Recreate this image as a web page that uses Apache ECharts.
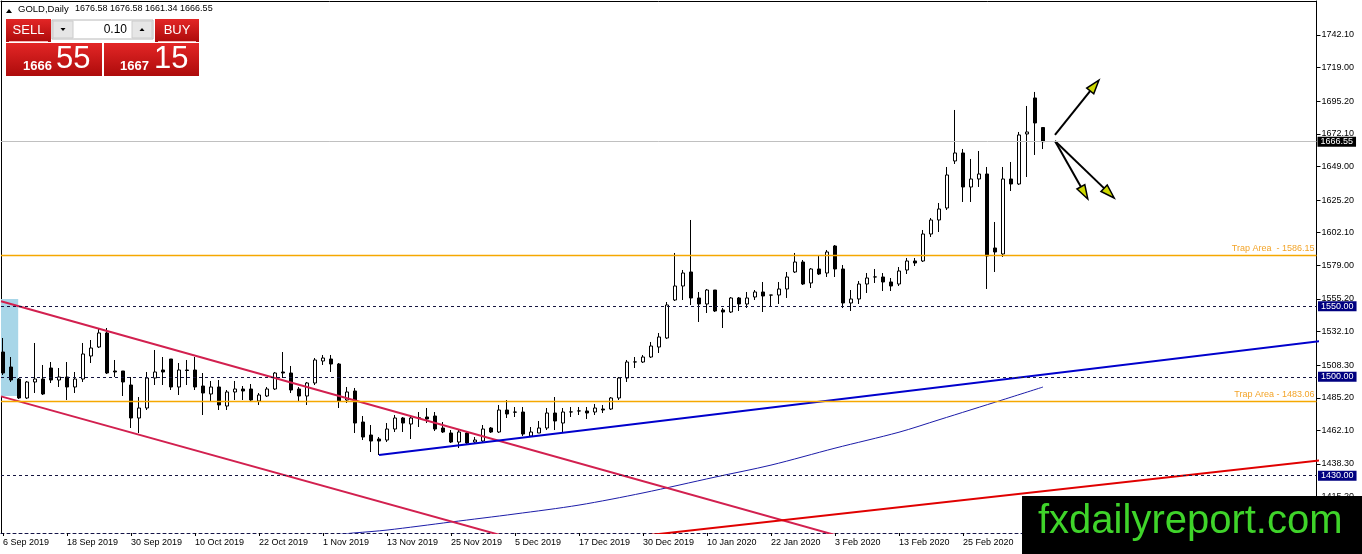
<!DOCTYPE html>
<html><head><meta charset="utf-8">
<script src="https://cdn.jsdelivr.net/npm/echarts@6/dist/echarts.min.js"></script>
<style>html,body{margin:0;padding:0;background:#fff}#c{width:1362px;height:554px}</style>
</head><body><div id="c"></div>
<script>
const dates = ['2019.09.06','2019.09.09','2019.09.10','2019.09.11','2019.09.12','2019.09.13','2019.09.16','2019.09.17','2019.09.18','2019.09.19','2019.09.20','2019.09.23','2019.09.24','2019.09.25','2019.09.26','2019.09.27','2019.09.30',
'2019.10.01','2019.10.02','2019.10.03','2019.10.04','2019.10.07','2019.10.08','2019.10.09','2019.10.10','2019.10.11','2019.10.14','2019.10.15','2019.10.16','2019.10.17','2019.10.18','2019.10.21','2019.10.22','2019.10.23','2019.10.24','2019.10.25','2019.10.28','2019.10.29','2019.10.30','2019.10.31',
'2019.11.01','2019.11.04','2019.11.05','2019.11.06','2019.11.07','2019.11.08','2019.11.11','2019.11.12','2019.11.13','2019.11.14','2019.11.15','2019.11.18','2019.11.19','2019.11.20','2019.11.21','2019.11.22','2019.11.25','2019.11.26','2019.11.27','2019.11.28','2019.11.29',
'2019.12.02','2019.12.03','2019.12.04','2019.12.05','2019.12.06','2019.12.09','2019.12.10','2019.12.11','2019.12.12','2019.12.13','2019.12.16','2019.12.17','2019.12.18','2019.12.19','2019.12.20','2019.12.23','2019.12.24','2019.12.26','2019.12.27','2019.12.30','2019.12.31',
'2020.01.02','2020.01.03','2020.01.06','2020.01.07','2020.01.08','2020.01.09','2020.01.10','2020.01.13','2020.01.14','2020.01.15','2020.01.16','2020.01.17','2020.01.20','2020.01.21','2020.01.22','2020.01.23','2020.01.24','2020.01.27','2020.01.28','2020.01.29','2020.01.30','2020.01.31',
'2020.02.03','2020.02.04','2020.02.05','2020.02.06','2020.02.07','2020.02.10','2020.02.11','2020.02.12','2020.02.13','2020.02.14','2020.02.17','2020.02.18','2020.02.19','2020.02.20','2020.02.21','2020.02.24','2020.02.25','2020.02.26','2020.02.27','2020.02.28',
'2020.03.02','2020.03.03','2020.03.04','2020.03.05','2020.03.06','2020.03.09','2020.03.10'];

const open = [
1517.60,1506.98,1498.48,1485.03,1496.36,1498.48,1506.27,1497.77,1499.90,1492.82,
1498.48,1514.77,1521.14,1531.06,1504.15,1504.15,1494.23,1470.86,1477.94,1499.19,
1504.86,1512.64,1492.82,1504.86,1504.86,1493.52,1487.86,1492.82,1479.36,1489.28,
1491.40,1491.40,1482.90,1486.44,1491.40,1503.44,1502.73,1491.40,1486.44,1495.65,
1511.23,1512.64,1509.10,1483.61,1489.98,1468.02,1458.81,1455.98,1455.27,1463.06,
1470.86,1466.60,1470.86,1471.56,1472.27,1463.77,1460.23,1453.85,1460.23,1453.85,
1454.56,1463.77,1460.94,1476.52,1475.11,1475.11,1458.10,1460.23,1463.77,1474.40,
1467.31,1475.11,1475.82,1475.82,1475.11,1477.23,1477.23,1485.03,1499.19,1510.52,
1510.52,1514.06,1521.14,1527.52,1554.43,1564.34,1574.26,1555.85,1551.60,1561.51,
1547.35,1545.93,1555.85,1551.60,1556.55,1560.10,1557.97,1557.97,1562.22,1574.26,
1581.34,1566.47,1576.39,1573.55,1592.68,1576.39,1552.31,1555.14,1565.76,1570.72,
1570.72,1567.18,1565.76,1575.68,1582.05,1582.05,1601.17,1611.09,1619.59,1652.88,
1658.55,1634.46,1640.13,1643.67,1591.26,1587.01,1640.13,1636.59,1672.01,1697.51,
1676.58];
const close = [
1502.73,1497.77,1485.03,1496.36,1498.48,1487.86,1497.77,1499.90,1492.82,1498.48,
1516.19,1520.43,1531.06,1502.73,1503.44,1496.36,1470.86,1477.94,1499.19,1503.44,
1503.44,1492.82,1504.86,1504.50,1492.82,1488.57,1492.82,1480.07,1489.28,1491.40,
1489.98,1483.61,1487.15,1491.40,1502.73,1502.73,1490.69,1486.44,1495.65,1511.94,
1513.35,1509.10,1482.90,1489.28,1467.31,1457.39,1454.56,1454.56,1463.06,1470.86,
1467.31,1470.86,1471.00,1470.15,1463.06,1460.94,1453.85,1460.94,1453.14,1455.27,
1463.06,1460.94,1476.52,1473.69,1475.00,1459.52,1460.94,1463.77,1474.40,1468.73,
1475.11,1475.20,1475.90,1474.40,1477.94,1476.52,1485.03,1499.19,1510.52,1510.60,
1514.06,1521.85,1528.23,1550.89,1564.34,1573.55,1555.85,1551.60,1561.51,1546.64,
1545.93,1555.85,1551.60,1555.85,1560.10,1557.26,1557.90,1562.22,1570.72,1581.34,
1565.76,1576.39,1572.84,1588.43,1576.39,1552.31,1555.14,1565.76,1570.01,1570.80,
1567.18,1564.34,1574.97,1582.05,1580.63,1601.17,1611.09,1618.88,1642.96,1658.55,
1634.46,1640.13,1643.67,1585.59,1588.43,1640.13,1636.59,1671.30,1673.42,1679.80,
1666.55];
const low = [
1501.31,1496.36,1484.32,1484.32,1488.57,1487.15,1495.65,1492.82,1483.61,1488.57,
1496.36,1509.81,1520.43,1502.02,1499.90,1486.44,1463.77,1460.23,1476.52,1494.23,
1494.23,1490.69,1487.15,1494.23,1490.69,1472.98,1482.19,1476.52,1476.52,1483.61,
1483.61,1482.19,1480.07,1485.73,1490.69,1499.19,1488.57,1482.90,1480.07,1494.23,
1508.40,1503.44,1477.94,1481.48,1460.23,1455.27,1446.77,1444.64,1453.85,1460.94,
1460.94,1455.98,1464.48,1467.31,1461.64,1460.23,1453.14,1449.60,1452.43,1453.14,
1453.85,1460.23,1460.23,1470.86,1471.56,1458.10,1457.39,1460.23,1462.35,1462.35,
1460.94,1471.56,1472.98,1470.15,1472.98,1474.40,1476.52,1483.61,1496.36,1506.27,
1509.81,1513.35,1516.90,1526.81,1553.72,1554.43,1550.89,1538.85,1545.22,1545.93,
1534.60,1545.22,1546.64,1548.77,1554.43,1545.93,1549.47,1551.60,1555.85,1573.55,
1565.05,1562.93,1572.13,1570.72,1570.72,1548.77,1546.64,1551.60,1559.39,1566.47,
1560.80,1560.80,1564.34,1572.84,1578.51,1581.34,1599.05,1602.59,1618.18,1650.75,
1623.84,1623.84,1634.46,1562.22,1574.26,1584.88,1631.63,1635.88,1641.54,1657.13,
1661.34];
const high = [
1527.52,1514.06,1499.19,1497.07,1523.98,1508.40,1510.52,1506.27,1510.52,1503.44,
1523.98,1526.10,1533.89,1534.60,1511.94,1504.15,1499.90,1485.73,1503.44,1519.02,
1514.06,1512.64,1509.81,1511.94,1514.06,1502.73,1497.07,1497.77,1490.69,1497.07,
1493.52,1494.94,1488.57,1492.82,1503.44,1517.60,1507.69,1492.82,1496.36,1513.35,
1515.48,1515.48,1509.81,1492.82,1492.11,1472.27,1465.90,1457.39,1467.31,1472.98,
1471.56,1472.98,1475.11,1477.94,1475.11,1468.02,1462.35,1463.06,1460.94,1457.39,
1465.90,1464.48,1480.07,1483.61,1478.65,1478.65,1464.48,1468.73,1477.94,1485.73,
1477.94,1478.65,1478.65,1478.65,1480.78,1480.07,1485.73,1499.90,1511.94,1514.06,
1515.48,1524.69,1531.06,1553.01,1587.72,1575.68,1611.09,1560.10,1562.22,1561.51,
1548.77,1556.55,1556.55,1560.10,1561.51,1567.18,1557.97,1567.18,1574.26,1587.72,
1582.76,1577.09,1585.59,1589.84,1593.38,1579.22,1561.51,1567.88,1573.55,1576.39,
1573.55,1570.01,1577.80,1584.18,1584.18,1604.01,1612.51,1623.13,1648.63,1689.00,
1661.38,1654.30,1659.96,1648.63,1609.67,1648.63,1652.17,1673.42,1691.84,1701.76,
1676.58];

const dateTickIndex = [0,8,16,24,32,40,48,56,64,72,80,88,96,104,112,120];
const dateTickLabels = ['6 Sep 2019','18 Sep 2019','30 Sep 2019','10 Oct 2019','22 Oct 2019','1 Nov 2019','13 Nov 2019','25 Nov 2019','5 Dec 2019','17 Dec 2019','30 Dec 2019','10 Jan 2020','22 Jan 2020','3 Feb 2020','13 Feb 2020','25 Feb 2020'];
const priceTicks = [1742.10,1719.00,1695.20,1672.10,1649.00,1625.20,1602.10,1579.00,1555.20,1532.10,1508.30,1485.20,1462.10,1438.30,1415.20];

const maIndex = [40,44,48,56,64,72,80,89,96,104,112,117,125,130];
const maValue = [1387.5,1389.5,1391.5,1397.2,1402.9,1409.2,1417.8,1429.0,1437.5,1449.5,1460.8,1469.6,1483.8,1492.8];

const channelUpper = [[-0.25,1553.5],[105.9,1385.0]];
const channelLower = [[-0.25,1486.2],[63.4,1386.0]];
const supportBlue = [[47,1444.66],[165.9,1526.1]];
const supportRed = [[75.25,1384.47],[165.9,1441.7]];
const arrows = [[131.5,1671.3,137.0,1710.2],[131.5,1667.0,135.6,1626.0],[131.5,1667.0,138.9,1626.7]];

const currentPrice = 1666.55;
const trapLevels = [1586.15, 1483.06];
const roundLevels = [1550.00, 1500.00, 1430.00];
const blueBox = [[-0.25, 1486.4], [1.9, 1555.1]];

const yMin = 1389.42, yMax = 1766.18;
const xMin = -0.25, xMax = 164.19;
const FONT = '"Liberation Sans", Arial, sans-serif';

const chart = echarts.init(document.getElementById('c'), null, {renderer:'canvas'});
const candles = dates.map((d,i)=>[i, open[i], close[i], low[i], high[i]]);

const red = () => new echarts.graphic.LinearGradient(0,0,0,1,[{offset:0,color:'#e32626'},{offset:1,color:'#ad0b0b'}]);

const roundLines = roundLevels.map(v=>({yAxis:v, lineStyle:{color:'#151540', width:1, type:[3,3]},
   label:{show:true, position:'end', formatter: v.toFixed(2), backgroundColor:'#000080', color:'#fff', padding:[1,3], fontSize:9, lineHeight:8, fontFamily:FONT, distance:1.5}}));
const priceLine = [{yAxis: currentPrice, lineStyle:{color:'#c0c0c0', width:1, type:'solid'},
   label:{show:true, position:'end', formatter: currentPrice.toFixed(2), backgroundColor:'#000', color:'#fff', padding:[1,3], fontSize:9, lineHeight:8, fontFamily:FONT, distance:1}}];
const trapLines = trapLevels.map((v,k)=>({yAxis:v,
   label:{show:true, position:'insideEndTop', formatter: (k===0?'Trap Area  - ':'Trap Area - ')+v.toFixed(2), color:'#f3a428', fontSize:9, fontFamily:FONT, distance:2}}));

const lineSeries = (data, color, width) => ({type:'line', data, symbol:'none', z:3, silent:true, clip:true,
  lineStyle:{color, width}, itemStyle:{color}});

const option = {
  animation:false,
  backgroundColor:'#fff',
  grid:{left:1, top:1, right:45.5, bottom:21},
  xAxis:[
    {type:'value', min:xMin, max:xMax, position:'bottom',
     axisLine:{onZero:false, lineStyle:{color:'#151548', type:[3,3], width:1}},
     axisTick:{show:true, length:3, customValues:dateTickIndex, lineStyle:{color:'#000'}},
     axisLabel:{customValues:dateTickIndex, align:'left', color:'#000', fontSize:9, fontFamily:FONT, margin:5,
       formatter:(v)=>{const k=dateTickIndex.indexOf(Math.round(v)); return k>=0?dateTickLabels[k]:'';}},
     splitLine:{show:false}},
    {type:'value', min:xMin, max:xMax, position:'top',
     axisLine:{onZero:false, lineStyle:{color:'#000'}}, axisTick:{show:false}, axisLabel:{show:false}, splitLine:{show:false}}
  ],
  yAxis:[
    {type:'value', min:yMin, max:yMax, position:'right',
     axisLine:{show:true, onZero:false, lineStyle:{color:'#000'}},
     axisTick:{show:true, length:4, customValues:priceTicks, lineStyle:{color:'#000'}},
     axisLabel:{customValues:priceTicks, formatter:v=>v.toFixed(2), color:'#000', fontSize:9, fontFamily:FONT, margin:5},
     splitLine:{show:false}},
    {type:'value', min:yMin, max:yMax, position:'left',
     axisLine:{show:true, onZero:false, lineStyle:{color:'#000'}}, axisTick:{show:false}, axisLabel:{show:false}, splitLine:{show:false}}
  ],
  series:[
    {type:'line', data:[], z:1, silent:true,
     markArea:{silent:true, itemStyle:{color:'#a8d6e8', opacity:1},
       data:[[{xAxis:blueBox[0][0], yAxis:blueBox[0][1]},{xAxis:blueBox[1][0], yAxis:blueBox[1][1]}]]},
     markLine:{silent:true, symbol:'none', animation:false, data:roundLines.concat(priceLine)}},
    {type:'line', data:[], z:1, silent:true,
     markLine:{silent:true, symbol:'none', animation:false,
       lineStyle:{color:'#f5a800', width:1.3, type:'solid', opacity:1},
       data:trapLines}},
    {type:'candlestick', data:candles, encode:{x:0, y:[1,2,3,4]}, z:2, barWidth:3,
     itemStyle:{color:'#ffffff', color0:'#000000', borderColor:'#000000', borderColor0:'#000000', borderWidth:1}},
    Object.assign(lineSeries(maIndex.map((x,k)=>[x, maValue[k]]), '#1c1ca8', 1), {smooth:0.3}),
    lineSeries(channelUpper, '#d2204f', 2),
    lineSeries(channelLower, '#d2204f', 2),
    lineSeries(supportBlue, '#0000cc', 2),
    lineSeries(supportRed, '#e00000', 2),
    {type:'custom', data:arrows, z:4, silent:true, encode:{x:[0,2], y:[1,3]},
     renderItem:(params, api)=>{
       const s = api.coord([api.value(0), api.value(1)]);
       const e = api.coord([api.value(2), api.value(3)]);
       const dx=e[0]-s[0], dy=e[1]-s[1], L=Math.hypot(dx,dy), ux=dx/L, uy=dy/L;
       const hl=14, hw=4.5;
       const bx=e[0]-ux*hl, by=e[1]-uy*hl;
       return {type:'group', children:[
         {type:'line', shape:{x1:s[0],y1:s[1],x2:bx+ux*2,y2:by+uy*2}, style:{stroke:'#000', lineWidth:2}},
         {type:'polygon', shape:{points:[[e[0],e[1]],[bx-uy*hw,by+ux*hw],[bx+uy*hw,by-ux*hw]]}, style:{fill:'#cdd800', stroke:'#000', lineWidth:1.5}}
       ]};
     }}
  ],
  graphic:[
    {type:'polygon', z:100, shape:{points:[[6,13],[12,13],[9,9]]}, style:{fill:'#000'}},
    {type:'text', z:100, x:18, y:9, style:{text:'GOLD,Daily', font:'9.5px '+FONT, fill:'#000', verticalAlign:'middle'}},
    {type:'text', z:100, x:75, y:9, style:{text:'1676.58 1676.58 1661.34 1666.55', font:'9px '+FONT, fill:'#000', verticalAlign:'middle'}},
    {type:'rect', z:100, shape:{x:6,y:19,width:45,height:23}, style:{fill:red()}},
    {type:'text', z:101, x:28.5, y:30.5, style:{text:'SELL', font:'13px '+FONT, fill:'#fff', align:'center', verticalAlign:'middle'}},
    {type:'line', z:101, shape:{x1:9,y1:41.5,x2:48,y2:41.5}, style:{stroke:'#f4b4b4', lineWidth:1}},
    {type:'rect', z:100, shape:{x:52,y:20,width:101,height:19}, style:{fill:'#fff', stroke:'#b8b8b8', lineWidth:1}},
    {type:'rect', z:101, shape:{x:53,y:21,width:20,height:17}, style:{fill:'#e6e6e6', stroke:'#cccccc', lineWidth:1}},
    {type:'polygon', z:102, shape:{points:[[60.5,28],[65.5,28],[63,31]]}, style:{fill:'#000'}},
    {type:'rect', z:101, shape:{x:132,y:21,width:20,height:17}, style:{fill:'#e6e6e6', stroke:'#cccccc', lineWidth:1}},
    {type:'polygon', z:102, shape:{points:[[139.5,31],[144.5,31],[142,28]]}, style:{fill:'#000'}},
    {type:'text', z:101, x:127, y:30, style:{text:'0.10', font:'12px '+FONT, fill:'#000', align:'right', verticalAlign:'middle'}},
    {type:'rect', z:100, shape:{x:155,y:19,width:44,height:23}, style:{fill:red()}},
    {type:'text', z:101, x:177, y:30.5, style:{text:'BUY', font:'13px '+FONT, fill:'#fff', align:'center', verticalAlign:'middle'}},
    {type:'line', z:101, shape:{x1:158,y1:41.5,x2:196,y2:41.5}, style:{stroke:'#f4b4b4', lineWidth:1}},
    {type:'rect', z:100, shape:{x:6,y:43,width:96,height:33}, style:{fill:red()}},
    {type:'text', z:101, x:23, y:66, style:{text:'1666', font:'bold 13px '+FONT, fill:'#fff', verticalAlign:'middle'}},
    {type:'text', z:101, x:56, y:59, style:{text:'55', font:'31px '+FONT, fill:'#fff', verticalAlign:'middle'}},
    {type:'rect', z:100, shape:{x:104,y:43,width:95,height:33}, style:{fill:red()}},
    {type:'text', z:101, x:120, y:66, style:{text:'1667', font:'bold 13px '+FONT, fill:'#fff', verticalAlign:'middle'}},
    {type:'text', z:101, x:154, y:59, style:{text:'15', font:'31px '+FONT, fill:'#fff', verticalAlign:'middle'}},
    {type:'rect', z:110, shape:{x:1022,y:496,width:340,height:58}, style:{fill:'#000'}},
    {type:'text', z:111, x:1038, y:522, style:{text:'fxdailyreport.com', font:'40px '+FONT, fill:'#3fd42a', verticalAlign:'middle'}}
  ]
};
chart.setOption(option);
</script>
</body></html>
